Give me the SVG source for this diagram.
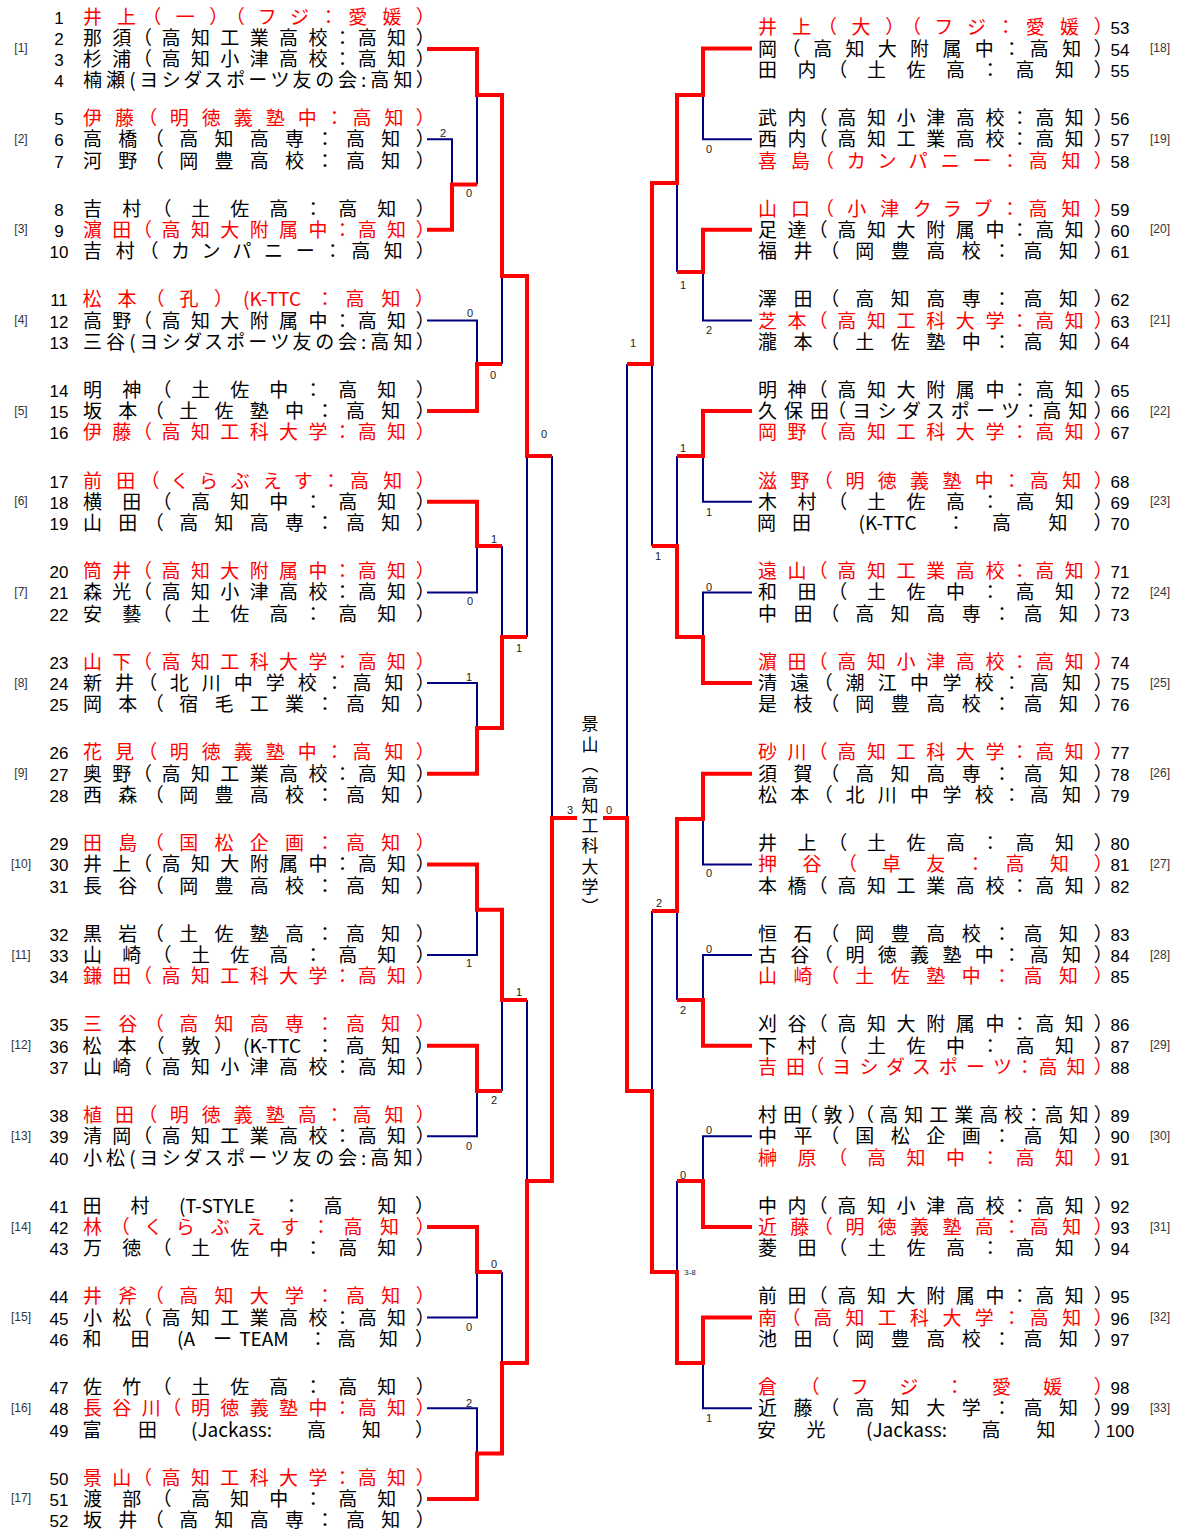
<svg xmlns="http://www.w3.org/2000/svg" width="1181" height="1532" viewBox="0 0 1181 1532">
<style>
text{font-family:"Noto Sans CJK JP","Noto Sans CJK SC",sans-serif}
.t{font-size:19px;font-feature-settings:"palt" 1;fill:#000}
.w{fill:#FF0000}
.c{text-anchor:middle}
.n{font-family:"Liberation Sans",Arial,sans-serif;font-size:17px;text-anchor:middle;fill:#000}
.g{font-family:"Liberation Sans",Arial,sans-serif;font-size:12px;fill:#333;text-anchor:middle}
.s{font-family:"Liberation Sans",Arial,sans-serif;font-size:11px;fill:#222;text-anchor:middle}
.r{stroke:#FF0000;stroke-width:4;fill:none}
.b{stroke:#000080;stroke-width:2;fill:none}
</style>
<rect width="1181" height="1532" fill="#fff"/>

<g id="connectors">
<g class="b">
<path d="M427 139.2H452V184.5M477 184.5V95"/>
<path d="M427 320.5H477V364M502 364V276"/>
<path d="M427 592.4H477V546"/>
<path d="M427 683H477V728M502 546V637M527 637V456"/>
<path d="M427 955H477V909.7M427 1136.3H477V1091M502 1091V1000M527 1000V1181"/>
<path d="M427 1408.3H477V1453.6M427 1317.6H477V1272M502 1272V1363"/>
<path d="M552 456V818"/>
<path d="M752 139.2H703V95M752 320.5H703V272M677 272V183"/>
<path d="M752 501.8H703V456M677 456V546M752 592.4H703V637M652 546V364M627 364V818"/>
<path d="M752 864.4H703V819M752 955H703V1000M677 1000V911M652 911V1091"/>
<path d="M752 1136.3H703V1181M677 1181V1272M752 1408.3H703V1363"/>
</g>
<g class="r">
<path d="M427 49H477V95H502V276H527V456H552"/>
<path d="M427 229.8H452V184.5H477"/>
<path d="M427 411.1H477V364H502"/>
<path d="M427 501.8H477V546H502"/>
<path d="M427 773.7H477V728H502V637H527"/>
<path d="M427 864.4H477V909.7H502V1000H527"/>
<path d="M427 1045.7H477V1091H502"/>
<path d="M427 1227H477V1272H502"/>
<path d="M427 1498.9H477V1453.6H502V1363H527V1181H552V818H577"/>
<path d="M752 48.5H703V95H677V183H652V364H627"/>
<path d="M752 229.8H703V272H677"/>
<path d="M752 411.1H703V456H677"/>
<path d="M752 683H703V637H677V546H652"/>
<path d="M752 773.7H703V819H677V911H652"/>
<path d="M752 1045.7H703V1000H677"/>
<path d="M752 1227H703V1181H677"/>
<path d="M752 1317.6H703V1363H677V1272H652V1091H627V818H603"/>
</g>
<g id="scores">
<text class="s" x="443" y="137">2</text>
<text class="s" x="469" y="197">0</text>
<text class="s" x="470" y="317">0</text>
<text class="s" x="493" y="379">0</text>
<text class="s" x="544" y="438">0</text>
<text class="s" x="494" y="543">1</text>
<text class="s" x="470" y="605">0</text>
<text class="s" x="469" y="681">1</text>
<text class="s" x="519" y="652">1</text>
<text class="s" x="469" y="967">1</text>
<text class="s" x="519" y="996">1</text>
<text class="s" x="494" y="1104">2</text>
<text class="s" x="469" y="1150">0</text>
<text class="s" x="494" y="1268">0</text>
<text class="s" x="469" y="1331">0</text>
<text class="s" x="469" y="1407">2</text>
<text class="s" x="570" y="814">3</text>
<text class="s" x="609" y="814">0</text>
<text class="s" x="709" y="153">0</text>
<text class="s" x="683" y="289">1</text>
<text class="s" x="709" y="334">2</text>
<text class="s" x="633" y="347">1</text>
<text class="s" x="683" y="452">1</text>
<text class="s" x="709" y="516">1</text>
<text class="s" x="658" y="560">1</text>
<text class="s" x="709" y="591">0</text>
<text class="s" x="709" y="877">0</text>
<text class="s" x="659" y="907">2</text>
<text class="s" x="709" y="953">0</text>
<text class="s" x="683" y="1014">2</text>
<text class="s" x="709" y="1134">0</text>
<text class="s" x="683" y="1179">0</text>
<text class="s" x="690" y="1275" style="font-size:8px">3-8</text>
<text class="s" x="709" y="1422">1</text>
</g>
</g>

<g id="champion">
<text x="590" y="715.5" style="writing-mode:vertical-rl;font-size:17px;letter-spacing:3.3px" fill="#000">景山（高知工科大学）</text>
</g>

<g id="block1">
<text class="g" x="21" y="52">[1]</text>
<text class="n" x="59" y="23.5">1</text><text class="t w" x="83" y="23.5" textLength="343" lengthAdjust="spacing">井上（一）（フジ：愛媛）</text>
<text class="n" x="59" y="44.8">2</text><text class="t" x="83" y="44.8" textLength="343" lengthAdjust="spacing">那須（高知工業高校：高知）</text>
<text class="n" x="59" y="66.1">3</text><text class="t" x="83" y="66.1" textLength="343" lengthAdjust="spacing">杉浦（高知小津高校：高知）</text>
<text class="n" x="59" y="87.4">4</text><text class="t" x="83" y="87.4" textLength="343" lengthAdjust="spacing">楠瀬(ヨシダスポーツ友の会:高知）</text>
</g>
<g id="block2">
<text class="g" x="21" y="142.7">[2]</text>
<text class="n" x="59" y="124.9">5</text><text class="t w" x="83" y="124.9" textLength="343" lengthAdjust="spacing">伊藤（明徳義塾中：高知）</text>
<text class="n" x="59" y="146.2">6</text><text class="t" x="83" y="146.2" textLength="343" lengthAdjust="spacing">高橋（高知高専：高知）</text>
<text class="n" x="59" y="167.5">7</text><text class="t" x="83" y="167.5" textLength="343" lengthAdjust="spacing">河野（岡豊高校：高知）</text>
</g>
<g id="block3">
<text class="g" x="21" y="233.3">[3]</text>
<text class="n" x="59" y="215.5">8</text><text class="t" x="83" y="215.5" textLength="343" lengthAdjust="spacing">吉村（土佐高：高知）</text>
<text class="n" x="59" y="236.8">9</text><text class="t w" x="83" y="236.8" textLength="343" lengthAdjust="spacing">濵田（高知大附属中：高知）</text>
<text class="n" x="59" y="258.1">10</text><text class="t" x="83" y="258.1" textLength="343" lengthAdjust="spacing">吉村（カンパニー：高知）</text>
</g>
<g id="block4">
<text class="g" x="21" y="324">[4]</text>
<text class="n" x="59" y="306.2">11</text><text class="t w c" y="306.2"><tspan x="92">松</tspan><tspan x="127">本</tspan><tspan x="159">（</tspan><tspan x="189">孔</tspan><tspan x="219.5">）</tspan><tspan x="272">(K-TTC</tspan><tspan x="325">：</tspan><tspan x="355">高</tspan><tspan x="391">知</tspan><tspan x="420.5">）</tspan></text>
<text class="n" x="59" y="327.5">12</text><text class="t" x="83" y="327.5" textLength="343" lengthAdjust="spacing">高野（高知大附属中：高知）</text>
<text class="n" x="59" y="348.8">13</text><text class="t" x="83" y="348.8" textLength="343" lengthAdjust="spacing">三谷(ヨシダスポーツ友の会:高知）</text>
</g>
<g id="block5">
<text class="g" x="21" y="414.6">[5]</text>
<text class="n" x="59" y="396.8">14</text><text class="t" x="83" y="396.8" textLength="343" lengthAdjust="spacing">明神（土佐中：高知）</text>
<text class="n" x="59" y="418.1">15</text><text class="t" x="83" y="418.1" textLength="343" lengthAdjust="spacing">坂本（土佐塾中：高知）</text>
<text class="n" x="59" y="439.4">16</text><text class="t w" x="83" y="439.4" textLength="343" lengthAdjust="spacing">伊藤（高知工科大学：高知）</text>
</g>
<g id="block6">
<text class="g" x="21" y="505.3">[6]</text>
<text class="n" x="59" y="487.5">17</text><text class="t w" x="83" y="487.5" textLength="343" lengthAdjust="spacing">前田（くらぶえす：高知）</text>
<text class="n" x="59" y="508.8">18</text><text class="t" x="83" y="508.8" textLength="343" lengthAdjust="spacing">横田（高知中：高知）</text>
<text class="n" x="59" y="530.1">19</text><text class="t" x="83" y="530.1" textLength="343" lengthAdjust="spacing">山田（高知高専：高知）</text>
</g>
<g id="block7">
<text class="g" x="21" y="595.9">[7]</text>
<text class="n" x="59" y="578.1">20</text><text class="t w" x="83" y="578.1" textLength="343" lengthAdjust="spacing">筒井（高知大附属中：高知）</text>
<text class="n" x="59" y="599.4">21</text><text class="t" x="83" y="599.4" textLength="343" lengthAdjust="spacing">森光（高知小津高校：高知）</text>
<text class="n" x="59" y="620.7">22</text><text class="t" x="83" y="620.7" textLength="343" lengthAdjust="spacing">安藝（土佐高：高知）</text>
</g>
<g id="block8">
<text class="g" x="21" y="686.6">[8]</text>
<text class="n" x="59" y="668.8">23</text><text class="t w" x="83" y="668.8" textLength="343" lengthAdjust="spacing">山下（高知工科大学：高知）</text>
<text class="n" x="59" y="690.1">24</text><text class="t" x="83" y="690.1" textLength="343" lengthAdjust="spacing">新井（北川中学校：高知）</text>
<text class="n" x="59" y="711.4">25</text><text class="t" x="83" y="711.4" textLength="343" lengthAdjust="spacing">岡本（宿毛工業：高知）</text>
</g>
<g id="block9">
<text class="g" x="21" y="777.2">[9]</text>
<text class="n" x="59" y="759.4">26</text><text class="t w" x="83" y="759.4" textLength="343" lengthAdjust="spacing">花見（明徳義塾中：高知）</text>
<text class="n" x="59" y="780.7">27</text><text class="t" x="83" y="780.7" textLength="343" lengthAdjust="spacing">奥野（高知工業高校：高知）</text>
<text class="n" x="59" y="802">28</text><text class="t" x="83" y="802" textLength="343" lengthAdjust="spacing">西森（岡豊高校：高知）</text>
</g>
<g id="block10">
<text class="g" x="21" y="867.9">[10]</text>
<text class="n" x="59" y="850.1">29</text><text class="t w" x="83" y="850.1" textLength="343" lengthAdjust="spacing">田島（国松企画：高知）</text>
<text class="n" x="59" y="871.4">30</text><text class="t" x="83" y="871.4" textLength="343" lengthAdjust="spacing">井上（高知大附属中：高知）</text>
<text class="n" x="59" y="892.7">31</text><text class="t" x="83" y="892.7" textLength="343" lengthAdjust="spacing">長谷（岡豊高校：高知）</text>
</g>
<g id="block11">
<text class="g" x="21" y="958.5">[11]</text>
<text class="n" x="59" y="940.7">32</text><text class="t" x="83" y="940.7" textLength="343" lengthAdjust="spacing">黒岩（土佐塾高：高知）</text>
<text class="n" x="59" y="962">33</text><text class="t" x="83" y="962" textLength="343" lengthAdjust="spacing">山崎（土佐高：高知）</text>
<text class="n" x="59" y="983.3">34</text><text class="t w" x="83" y="983.3" textLength="343" lengthAdjust="spacing">鎌田（高知工科大学：高知）</text>
</g>
<g id="block12">
<text class="g" x="21" y="1049.2">[12]</text>
<text class="n" x="59" y="1031.4">35</text><text class="t w" x="83" y="1031.4" textLength="343" lengthAdjust="spacing">三谷（高知高専：高知）</text>
<text class="n" x="59" y="1052.7">36</text><text class="t c" y="1052.7"><tspan x="92">松</tspan><tspan x="127">本</tspan><tspan x="159">（</tspan><tspan x="191">敦</tspan><tspan x="219.5">）</tspan><tspan x="272">(K-TTC</tspan><tspan x="325">：</tspan><tspan x="355">高</tspan><tspan x="391">知</tspan><tspan x="420.5">）</tspan></text>
<text class="n" x="59" y="1074">37</text><text class="t" x="83" y="1074" textLength="343" lengthAdjust="spacing">山崎（高知小津高校：高知）</text>
</g>
<g id="block13">
<text class="g" x="21" y="1139.8">[13]</text>
<text class="n" x="59" y="1122">38</text><text class="t w" x="83" y="1122" textLength="343" lengthAdjust="spacing">植田（明徳義塾高：高知）</text>
<text class="n" x="59" y="1143.3">39</text><text class="t" x="83" y="1143.3" textLength="343" lengthAdjust="spacing">清岡（高知工業高校：高知）</text>
<text class="n" x="59" y="1164.6">40</text><text class="t" x="83" y="1164.6" textLength="343" lengthAdjust="spacing">小松(ヨシダスポーツ友の会:高知）</text>
</g>
<g id="block14">
<text class="g" x="21" y="1230.5">[14]</text>
<text class="n" x="59" y="1212.7">41</text><text class="t c" y="1212.7"><tspan x="92">田</tspan><tspan x="140">村</tspan><tspan x="217">(T-STYLE</tspan><tspan x="291.5">：</tspan><tspan x="333">高</tspan><tspan x="387">知</tspan><tspan x="420.5">）</tspan></text>
<text class="n" x="59" y="1234">42</text><text class="t w" x="83" y="1234" textLength="343" lengthAdjust="spacing">林（くらぶえす：高知）</text>
<text class="n" x="59" y="1255.3">43</text><text class="t" x="83" y="1255.3" textLength="343" lengthAdjust="spacing">万徳（土佐中：高知）</text>
</g>
<g id="block15">
<text class="g" x="21" y="1321.1">[15]</text>
<text class="n" x="59" y="1303.3">44</text><text class="t w" x="83" y="1303.3" textLength="343" lengthAdjust="spacing">井斧（高知大学：高知）</text>
<text class="n" x="59" y="1324.6">45</text><text class="t" x="83" y="1324.6" textLength="343" lengthAdjust="spacing">小松（高知工業高校：高知）</text>
<text class="n" x="59" y="1345.9">46</text><text class="t c" y="1345.9"><tspan x="92">和</tspan><tspan x="140">田</tspan><tspan x="186">(A</tspan><tspan x="222.5">ー</tspan><tspan x="264">TEAM</tspan><tspan x="318">：</tspan><tspan x="346.5">高</tspan><tspan x="388.5">知</tspan><tspan x="420.5">）</tspan></text>
</g>
<g id="block16">
<text class="g" x="21" y="1411.8">[16]</text>
<text class="n" x="59" y="1394">47</text><text class="t" x="83" y="1394" textLength="343" lengthAdjust="spacing">佐竹（土佐高：高知）</text>
<text class="n" x="59" y="1415.3">48</text><text class="t w" x="83" y="1415.3" textLength="343" lengthAdjust="spacing">長谷川（明徳義塾中：高知）</text>
<text class="n" x="59" y="1436.6">49</text><text class="t c" y="1436.6"><tspan x="92">富</tspan><tspan x="147.5">田</tspan><tspan x="231.5">(Jackass:</tspan><tspan x="316.5">高</tspan><tspan x="371.5">知</tspan><tspan x="420.5">）</tspan></text>
</g>
<g id="block17">
<text class="g" x="21" y="1502.4">[17]</text>
<text class="n" x="59" y="1484.6">50</text><text class="t w" x="83" y="1484.6" textLength="343" lengthAdjust="spacing">景山（高知工科大学：高知）</text>
<text class="n" x="59" y="1505.9">51</text><text class="t" x="83" y="1505.9" textLength="343" lengthAdjust="spacing">渡部（高知中：高知）</text>
<text class="n" x="59" y="1527.2">52</text><text class="t" x="83" y="1527.2" textLength="343" lengthAdjust="spacing">坂井（高知高専：高知）</text>
</g>

<g id="block18">
<text class="g" x="1160" y="52">[18]</text>
<text class="t w" x="758" y="34.2" textLength="346" lengthAdjust="spacing">井上（大）（フジ：愛媛）</text><text class="n" x="1120" y="34.2">53</text>
<text class="t" x="758" y="55.5" textLength="346" lengthAdjust="spacing">岡（高知大附属中：高知）</text><text class="n" x="1120" y="55.5">54</text>
<text class="t" x="758" y="76.8" textLength="346" lengthAdjust="spacing">田内（土佐高：高知）</text><text class="n" x="1120" y="76.8">55</text>
</g>
<g id="block19">
<text class="g" x="1160" y="142.7">[19]</text>
<text class="t" x="758" y="124.9" textLength="346" lengthAdjust="spacing">武内（高知小津高校：高知）</text><text class="n" x="1120" y="124.9">56</text>
<text class="t" x="758" y="146.2" textLength="346" lengthAdjust="spacing">西内（高知工業高校：高知）</text><text class="n" x="1120" y="146.2">57</text>
<text class="t w" x="758" y="167.5" textLength="346" lengthAdjust="spacing">喜島（カンパニー：高知）</text><text class="n" x="1120" y="167.5">58</text>
</g>
<g id="block20">
<text class="g" x="1160" y="233.3">[20]</text>
<text class="t w" x="758" y="215.5" textLength="346" lengthAdjust="spacing">山口（小津クラブ：高知）</text><text class="n" x="1120" y="215.5">59</text>
<text class="t" x="758" y="236.8" textLength="346" lengthAdjust="spacing">足達（高知大附属中：高知）</text><text class="n" x="1120" y="236.8">60</text>
<text class="t" x="758" y="258.1" textLength="346" lengthAdjust="spacing">福井（岡豊高校：高知）</text><text class="n" x="1120" y="258.1">61</text>
</g>
<g id="block21">
<text class="g" x="1160" y="324">[21]</text>
<text class="t" x="758" y="306.2" textLength="346" lengthAdjust="spacing">澤田（高知高専：高知）</text><text class="n" x="1120" y="306.2">62</text>
<text class="t w" x="758" y="327.5" textLength="346" lengthAdjust="spacing">芝本（高知工科大学：高知）</text><text class="n" x="1120" y="327.5">63</text>
<text class="t" x="758" y="348.8" textLength="346" lengthAdjust="spacing">瀧本（土佐塾中：高知）</text><text class="n" x="1120" y="348.8">64</text>
</g>
<g id="block22">
<text class="g" x="1160" y="414.6">[22]</text>
<text class="t" x="758" y="396.8" textLength="346" lengthAdjust="spacing">明神（高知大附属中：高知）</text><text class="n" x="1120" y="396.8">65</text>
<text class="t" x="758" y="418.1" textLength="346" lengthAdjust="spacing">久保田（ヨシダスポーツ：高知）</text><text class="n" x="1120" y="418.1">66</text>
<text class="t w" x="758" y="439.4" textLength="346" lengthAdjust="spacing">岡野（高知工科大学：高知）</text><text class="n" x="1120" y="439.4">67</text>
</g>
<g id="block23">
<text class="g" x="1160" y="505.3">[23]</text>
<text class="t w" x="758" y="487.5" textLength="346" lengthAdjust="spacing">滋野（明徳義塾中：高知）</text><text class="n" x="1120" y="487.5">68</text>
<text class="t" x="758" y="508.8" textLength="346" lengthAdjust="spacing">木村（土佐高：高知）</text><text class="n" x="1120" y="508.8">69</text>
<text class="t c" y="530.1"><tspan x="766.5">岡</tspan><tspan x="801.5">田</tspan><tspan x="887.5">(K-TTC</tspan><tspan x="956">：</tspan><tspan x="1001.5">高</tspan><tspan x="1058">知</tspan><tspan x="1099">）</tspan></text><text class="n" x="1120" y="530.1">70</text>
</g>
<g id="block24">
<text class="g" x="1160" y="595.9">[24]</text>
<text class="t w" x="758" y="578.1" textLength="346" lengthAdjust="spacing">遠山（高知工業高校：高知）</text><text class="n" x="1120" y="578.1">71</text>
<text class="t" x="758" y="599.4" textLength="346" lengthAdjust="spacing">和田（土佐中：高知）</text><text class="n" x="1120" y="599.4">72</text>
<text class="t" x="758" y="620.7" textLength="346" lengthAdjust="spacing">中田（高知高専：高知）</text><text class="n" x="1120" y="620.7">73</text>
</g>
<g id="block25">
<text class="g" x="1160" y="686.6">[25]</text>
<text class="t w" x="758" y="668.8" textLength="346" lengthAdjust="spacing">濵田（高知小津高校：高知）</text><text class="n" x="1120" y="668.8">74</text>
<text class="t" x="758" y="690.1" textLength="346" lengthAdjust="spacing">清遠（潮江中学校：高知）</text><text class="n" x="1120" y="690.1">75</text>
<text class="t" x="758" y="711.4" textLength="346" lengthAdjust="spacing">是枝（岡豊高校：高知）</text><text class="n" x="1120" y="711.4">76</text>
</g>
<g id="block26">
<text class="g" x="1160" y="777.2">[26]</text>
<text class="t w" x="758" y="759.4" textLength="346" lengthAdjust="spacing">砂川（高知工科大学：高知）</text><text class="n" x="1120" y="759.4">77</text>
<text class="t" x="758" y="780.7" textLength="346" lengthAdjust="spacing">須賀（高知高専：高知）</text><text class="n" x="1120" y="780.7">78</text>
<text class="t" x="758" y="802" textLength="346" lengthAdjust="spacing">松本（北川中学校：高知）</text><text class="n" x="1120" y="802">79</text>
</g>
<g id="block27">
<text class="g" x="1160" y="867.9">[27]</text>
<text class="t" x="758" y="850.1" textLength="346" lengthAdjust="spacing">井上（土佐高：高知）</text><text class="n" x="1120" y="850.1">80</text>
<text class="t w" x="758" y="871.4" textLength="346" lengthAdjust="spacing">押谷（卓友：高知）</text><text class="n" x="1120" y="871.4">81</text>
<text class="t" x="758" y="892.7" textLength="346" lengthAdjust="spacing">本橋（高知工業高校：高知）</text><text class="n" x="1120" y="892.7">82</text>
</g>
<g id="block28">
<text class="g" x="1160" y="958.5">[28]</text>
<text class="t" x="758" y="940.7" textLength="346" lengthAdjust="spacing">恒石（岡豊高校：高知）</text><text class="n" x="1120" y="940.7">83</text>
<text class="t" x="758" y="962" textLength="346" lengthAdjust="spacing">古谷（明徳義塾中：高知）</text><text class="n" x="1120" y="962">84</text>
<text class="t w" x="758" y="983.3" textLength="346" lengthAdjust="spacing">山崎（土佐塾中：高知）</text><text class="n" x="1120" y="983.3">85</text>
</g>
<g id="block29">
<text class="g" x="1160" y="1049.2">[29]</text>
<text class="t" x="758" y="1031.4" textLength="346" lengthAdjust="spacing">刈谷（高知大附属中：高知）</text><text class="n" x="1120" y="1031.4">86</text>
<text class="t" x="758" y="1052.7" textLength="346" lengthAdjust="spacing">下村（土佐中：高知）</text><text class="n" x="1120" y="1052.7">87</text>
<text class="t w" x="758" y="1074" textLength="346" lengthAdjust="spacing">吉田（ヨシダスポーツ：高知）</text><text class="n" x="1120" y="1074">88</text>
</g>
<g id="block30">
<text class="g" x="1160" y="1139.8">[30]</text>
<text class="t" x="758" y="1122" textLength="346" lengthAdjust="spacing">村田（敦）（高知工業高校：高知）</text><text class="n" x="1120" y="1122">89</text>
<text class="t" x="758" y="1143.3" textLength="346" lengthAdjust="spacing">中平（国松企画：高知）</text><text class="n" x="1120" y="1143.3">90</text>
<text class="t w" x="758" y="1164.6" textLength="346" lengthAdjust="spacing">榊原（高知中：高知）</text><text class="n" x="1120" y="1164.6">91</text>
</g>
<g id="block31">
<text class="g" x="1160" y="1230.5">[31]</text>
<text class="t" x="758" y="1212.7" textLength="346" lengthAdjust="spacing">中内（高知小津高校：高知）</text><text class="n" x="1120" y="1212.7">92</text>
<text class="t w" x="758" y="1234" textLength="346" lengthAdjust="spacing">近藤（明徳義塾高：高知）</text><text class="n" x="1120" y="1234">93</text>
<text class="t" x="758" y="1255.3" textLength="346" lengthAdjust="spacing">菱田（土佐高：高知）</text><text class="n" x="1120" y="1255.3">94</text>
</g>
<g id="block32">
<text class="g" x="1160" y="1321.1">[32]</text>
<text class="t" x="758" y="1303.3" textLength="346" lengthAdjust="spacing">前田（高知大附属中：高知）</text><text class="n" x="1120" y="1303.3">95</text>
<text class="t w" x="758" y="1324.6" textLength="346" lengthAdjust="spacing">南（高知工科大学：高知）</text><text class="n" x="1120" y="1324.6">96</text>
<text class="t" x="758" y="1345.9" textLength="346" lengthAdjust="spacing">池田（岡豊高校：高知）</text><text class="n" x="1120" y="1345.9">97</text>
</g>
<g id="block33">
<text class="g" x="1160" y="1411.8">[33]</text>
<text class="t w" x="758" y="1394" textLength="346" lengthAdjust="spacing">倉（フジ：愛媛）</text><text class="n" x="1120" y="1394">98</text>
<text class="t" x="758" y="1415.3" textLength="346" lengthAdjust="spacing">近藤（高知大学：高知）</text><text class="n" x="1120" y="1415.3">99</text>
<text class="t c" y="1436.6"><tspan x="766.5">安</tspan><tspan x="816">光</tspan><tspan x="906.5">(Jackass:</tspan><tspan x="991">高</tspan><tspan x="1046">知</tspan><tspan x="1099">）</tspan></text><text class="n" x="1120" y="1436.6">100</text>
</g>
</svg>
